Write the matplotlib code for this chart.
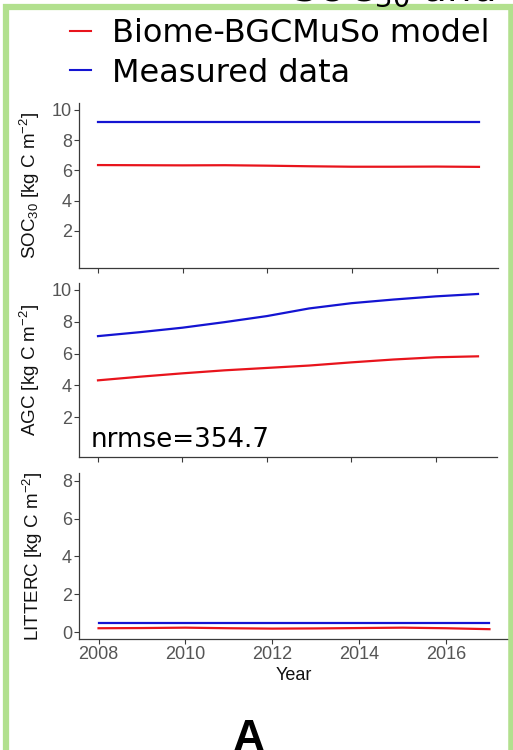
import matplotlib
matplotlib.use('Agg')
import matplotlib.pyplot as plt
from matplotlib.lines import Line2D

plt.rcParams['font.family'] = 'Liberation Sans'
plt.rcParams['mathtext.fontset'] = 'custom'
plt.rcParams['mathtext.rm'] = 'Liberation Sans'
plt.rcParams['mathtext.it'] = 'Liberation Sans:italic'
plt.rcParams['mathtext.bf'] = 'Liberation Sans:bold'

# data
years = [2008, 2009, 2010, 2011, 2012, 2013, 2014, 2015, 2016, 2017]
soc_model = [6.35, 6.34, 6.33, 6.34, 6.31, 6.27, 6.24, 6.24, 6.25, 6.23]
soc_meas = [9.2, 9.2, 9.2, 9.2, 9.2, 9.2, 9.2, 9.2, 9.2, 9.2]
agc_model = [4.32, 4.55, 4.76, 4.95, 5.1, 5.25, 5.45, 5.63, 5.77, 5.83]
agc_meas = [7.1, 7.35, 7.63, 7.98, 8.36, 8.84, 9.17, 9.4, 9.6, 9.75]
lit_model = [0.2, 0.21, 0.23, 0.2, 0.18, 0.19, 0.21, 0.23, 0.2, 0.15]
lit_meas = [0.48, 0.48, 0.48, 0.48, 0.48, 0.48, 0.48, 0.48, 0.48, 0.48]
xticks = [2008, 2010, 2012, 2014, 2016]

red = '#e8141c'
blue = '#1414d2'
axcol = '#3a3a3a'
labcol = '#555555'
W, H = 513, 750

fig = plt.figure(figsize=(W / 100, H / 100), dpi=100)


def px_axes(x0, y0, x1, y1):
    # axes rectangle given in pixel coords (top-left origin)
    return fig.add_axes([x0 / W, 1 - y1 / H, (x1 - x0) / W, (y1 - y0) / H])


panels = [
    (px_axes(79, 103, 498, 268), soc_model, soc_meas, (-0.45, 10.45), [2, 4, 6, 8, 10],
     r'SOC$_{30}$ [kg C m$^{-2}$]'),
    (px_axes(79, 283, 497, 457), agc_model, agc_meas, (-0.5, 10.44), [2, 4, 6, 8, 10],
     r'AGC [kg C m$^{-2}$]'),
    (px_axes(79, 473, 509, 639), lit_model, lit_meas, (-0.37, 8.42), [0, 2, 4, 6, 8],
     r'LITTERC [kg C m$^{-2}$]'),
]

for i, (ax, mod, meas, ylim, yt, ylab) in enumerate(panels):
    ax.plot(years, mod, color=red, lw=1.6, label='Biome-BGCMuSo model')
    ax.plot(years, meas, color=blue, lw=1.6, label='Measured data')
    ax.set_xlim(2007.55, 2017.45)
    ax.set_ylim(*ylim)
    ax.set_yticks(yt)
    ax.set_xticks(xticks)
    for s in ['top', 'right']:
        ax.spines[s].set_visible(False)
    for s in ['left', 'bottom']:
        ax.spines[s].set_color(axcol)
        ax.spines[s].set_linewidth(0.9)
    ax.tick_params(colors=axcol, labelcolor=labcol, labelsize=13, length=3.5, width=0.8, pad=1.5)
    ax.set_ylabel(ylab, fontsize=13.5, color='#111111')
    ax.yaxis.set_label_coords(-0.088 if i < 2 else -0.08, 0.5)
    if i < 2:
        ax.tick_params(axis='x', labelbottom=False)

ax3 = panels[2][0]
ax3.set_xlabel('Year', fontsize=13, color='#111111', labelpad=3)

panels[1][0].text(0.029, 0.057, 'nrmse=354.7', transform=panels[1][0].transAxes,
                  fontsize=18.8, family='DejaVu Sans', va='baseline', ha='left')

# legend at top
handles = [Line2D([], [], color=red, lw=1.5), Line2D([], [], color=blue, lw=1.5)]
fig.legend(handles, ['Biome-BGCMuSo model', 'Measured data'], loc='upper left',
           bbox_to_anchor=(70 / W, 1 - 18 / H), frameon=False, borderpad=0,
           prop={'family': 'DejaVu Sans', 'size': 23}, handlelength=0.67,
           handletextpad=0.63, labelspacing=0.27, borderaxespad=0)

# green frame of the panel
green = '#b2e08e'
fig.add_artist(Line2D([6 / W, 6 / W], [0, 1 - 4 / H], color=green, lw=4.5,
                      transform=fig.transFigure, solid_capstyle='butt'))
fig.add_artist(Line2D([3 / W, 1], [1 - 7 / H, 1 - 7 / H], color=green, lw=4.5,
                      transform=fig.transFigure, solid_capstyle='butt'))
fig.add_artist(Line2D([510.5 / W, 510.5 / W], [0, 1 - 4 / H], color=green, lw=4,
                      transform=fig.transFigure, solid_capstyle='butt'))

# cut-off title and panel letter
fig.text(292 / W, 1 - 1 / H, r'SOC$_{30}$ and', fontsize=28, family='DejaVu Sans',
         math_fontfamily='dejavusans', va='baseline', ha='left', zorder=5)
fig.text(249 / W, -1 / H, 'A', fontsize=32, fontweight='bold', va='baseline', ha='center')

fig.savefig('out.png', dpi=100)
